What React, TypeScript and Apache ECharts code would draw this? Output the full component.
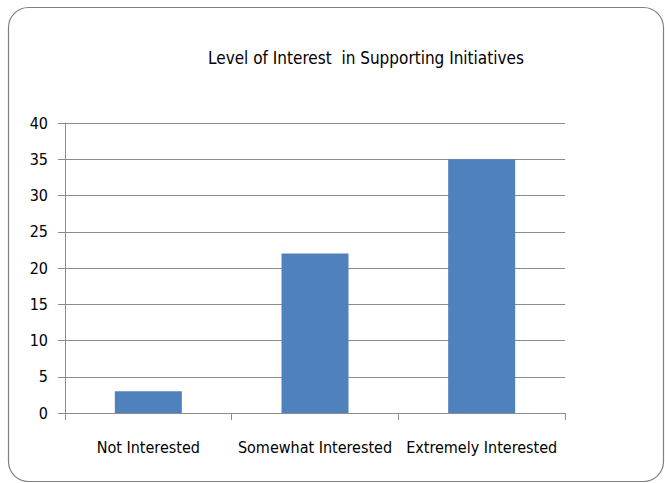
import React, { useEffect, useRef } from "react";
import * as echarts from "echarts";

const categories = ["Not Interested", "Somewhat Interested", "Extremely Interested"];
const values = [3, 22, 35];
const chartTitle = "Level of Interest  in Supporting Initiatives";

const FONT = "'DejaVu Sans Condensed', 'Open Sans', sans-serif";

export default function App() {
  const ref = useRef<HTMLDivElement>(null);
  useEffect(() => {
    if (!ref.current) return;
    const chart = echarts.init(ref.current, undefined, { renderer: "svg" });
    chart.setOption({
      animation: false,
      backgroundColor: "#ffffff",
      title: {
        text: chartTitle,
        left: 203,
        top: 44,
        textStyle: { fontFamily: FONT, fontSize: 17, fontWeight: "normal", color: "#000" },
      },
      graphic: [
        {
          type: "rect",
          shape: { x: 8.5, y: 7.5, width: 655, height: 474, r: 20 },
          style: { fill: "none", stroke: "#808080", lineWidth: 1.2 },
          silent: true,
        },
      ],
      grid: { left: 65, right: 100, top: 123, bottom: 70 },
      xAxis: {
        type: "category",
        data: categories,
        axisLine: { lineStyle: { color: "#8c8c8c", width: 1 } },
        axisTick: { show: true, length: 7, interval: 0, lineStyle: { color: "#8c8c8c" } },
        axisLabel: { fontFamily: FONT, fontSize: 16, color: "#000", margin: 26, interval: 0 },
      },
      yAxis: {
        type: "value",
        min: 0,
        max: 40,
        interval: 5,
        axisLine: { show: true, lineStyle: { color: "#8c8c8c", width: 1 } },
        axisTick: { show: true, length: 7, lineStyle: { color: "#8c8c8c" } },
        axisLabel: { fontFamily: FONT, fontSize: 16, color: "#000", margin: 17 },
        splitLine: { show: true, lineStyle: { color: "#8c8c8c", width: 1 } },
      },
      series: [
        {
          type: "bar",
          data: values,
          barWidth: 67,
          itemStyle: { color: "#4f81bd" },
        },
      ],
    });
    return () => chart.dispose();
  }, []);
  return (
    <div
      ref={ref}
      style={{ position: "fixed", left: 0, top: 0, width: 665, height: 483 }}
    />
  );
}
